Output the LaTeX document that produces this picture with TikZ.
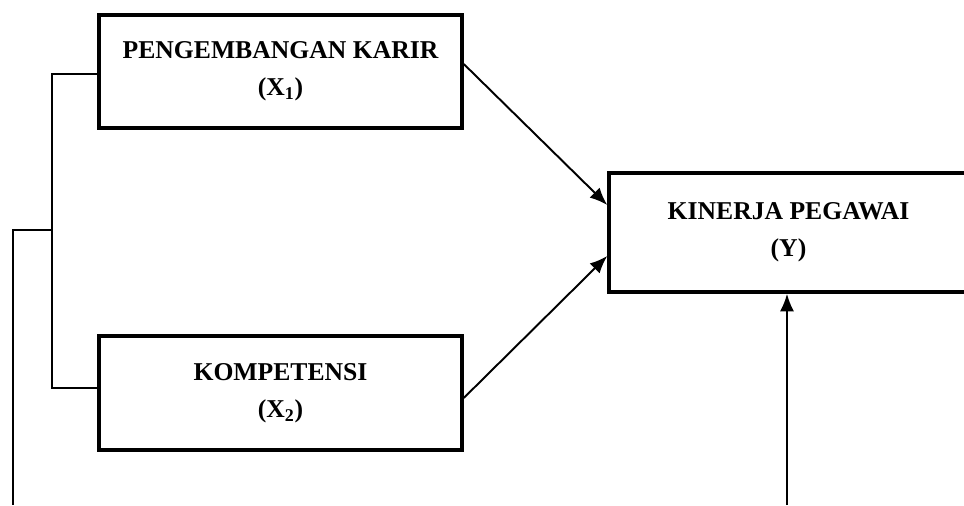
\documentclass[tikz,border=0pt]{standalone}
\usepackage{fontspec}
\setmainfont{Liberation Serif}
\usepackage{tikz}
\usetikzlibrary{arrows.meta,positioning,calc}
\tikzstyle{kotak}=[draw,rectangle,line width=2pt,align=center,inner sep=0pt,font=\fontsize{14.6}{21}\selectfont\bfseries]
\tikzstyle{garis}=[line width=0.8pt]
\tikzstyle{panah}=[line width=1.1pt,-{Latex[length=10pt,width=8pt]}]

\begin{document}
\begin{tikzpicture}
      \useasboundingbox (0,0) rectangle (19.28,10.1);
      \node[kotak,minimum width=7.26cm,minimum height=2.26cm] at (5.61, 8.67) (k1) {PENGEMBANGAN KARIR\\(X\textsubscript{1})};
      \node[kotak,minimum width=7.26cm,minimum height=2.28cm] at (5.61, 2.24) (k2) {KOMPETENSI\\(X\textsubscript{2})};
      \node[kotak,minimum width=7.18cm,minimum height=2.38cm] at (15.77,5.45) (ky) {KINERJA PEGAWAI\\(Y)};
      \coordinate (kiri) at (1.04,5.5);
      \coordinate (bawahkiri) at (0.26,0);
      \coordinate (bawahkanan) at (15.74,0);
      \draw[garis] ([yshift=-0.05cm]k1.west) -| (kiri) |- ([yshift=0.1cm]k2.west);
      \draw[garis] (kiri) -| (bawahkiri);
      \draw[panah] ([yshift=0.15cm]k1.east) -- ([yshift=0.55cm]ky.west);
      \draw[panah] ([yshift=-0.1cm]k2.east) -- ([yshift=-0.47cm]ky.west);
      \draw[panah] (bawahkanan) -- (bawahkanan |- ky.south);
  	\end{tikzpicture}
\end{document}
